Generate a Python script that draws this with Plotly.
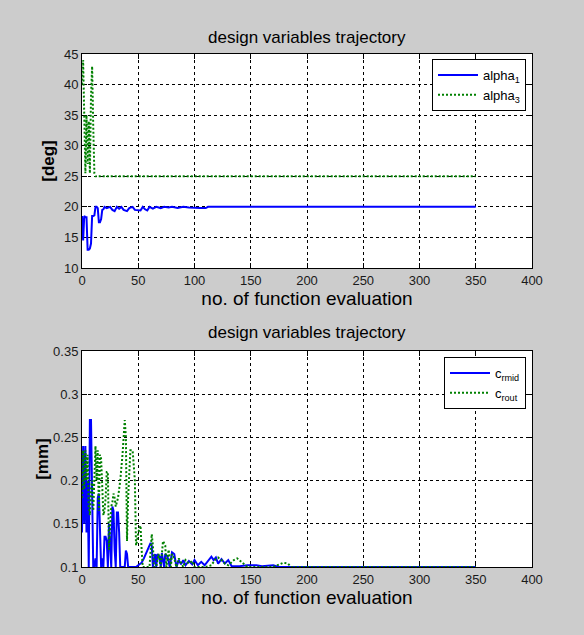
import plotly.graph_objects as go
from plotly.subplots import make_subplots

# ---- data: top panel (angles, deg) ----
alpha1_x = [0, 1, 2, 3, 4, 5, 6, 7, 8, 9, 10, 11, 12, 13, 14, 15, 16, 17, 18, 19, 20,
            22, 25, 27, 29, 31, 33, 35, 37, 40, 42, 45, 47, 50, 52, 54, 56, 58, 60,
            63, 66, 70, 73, 77, 80, 85, 90, 95, 100, 105, 110, 112, 350]
alpha1_y = [18.5, 14.5, 18.5, 18.3, 18.3, 13.0, 13.0, 13.2, 14.0, 18.5, 18.5, 18.6, 20.0, 20.0, 19.8,
            17.5, 17.5, 18.0, 19.5, 19.6, 20.0,
            19.8, 20.0, 19.5, 19.3, 20.0, 19.7, 20.0, 19.5, 19.3, 19.8, 20.0, 19.5, 19.5, 19.4, 20.0,
            19.6, 19.4, 20.0, 19.7, 20.0, 19.8, 20.0, 19.9, 20.0, 19.8, 20.0, 19.9, 19.8, 19.8,
            19.8, 20.0, 20.0]

alpha3_x = [0, 1, 2, 3, 4, 5, 6, 7, 8, 9, 10, 11, 12, 350]
alpha3_y = [40.0, 44.0, 35.0, 25.5, 35.0, 27.0, 34.0, 25.5, 38.0, 43.0, 33.0, 25.5, 25.0, 25.0]

# ---- data: bottom panel (clearances, mm) ----
crmid_x = [0, 1, 2, 3, 4, 5, 6, 7, 8, 9, 10, 11, 12, 13, 14, 15, 16, 17, 18, 19, 20,
           21, 22, 23, 24, 25, 26, 27, 28, 29, 30, 31, 32, 33, 34, 36, 38, 39, 40, 41,
           45, 48, 50, 53, 55, 58, 61, 62, 63, 65, 66, 67, 69, 70, 71, 73, 74, 76, 78,
           80, 82, 84, 86, 88, 90, 92, 95, 98, 100, 103, 106, 109, 112, 115, 117, 119,
           121, 124, 127, 130, 133, 140, 147, 155, 160, 170, 175, 350]
crmid_y = [0.14, 0.24, 0.15, 0.24, 0.14, 0.20, 0.10, 0.27, 0.27, 0.20, 0.10, 0.10, 0.11, 0.10,
           0.18, 0.185, 0.13, 0.10, 0.11, 0.10, 0.135,
           0.135, 0.13, 0.10, 0.15, 0.13, 0.10, 0.17, 0.165, 0.12, 0.10, 0.163, 0.163, 0.14,
           0.10, 0.10, 0.10, 0.119, 0.115, 0.10,
           0.10, 0.10, 0.102, 0.105, 0.11, 0.118, 0.128, 0.125, 0.10, 0.115, 0.10, 0.115,
           0.112, 0.10, 0.116, 0.10, 0.115, 0.112, 0.10,
           0.117, 0.115, 0.10, 0.108, 0.103, 0.108, 0.102, 0.107, 0.103, 0.108, 0.102,
           0.106, 0.102, 0.107, 0.112, 0.108, 0.111,
           0.104, 0.109, 0.104, 0.108, 0.101, 0.101, 0.102, 0.102, 0.101, 0.102, 0.10, 0.10]

crout_x = [0, 1, 2, 3, 4, 5, 6, 7, 8, 9, 10, 11, 12, 13, 14, 15, 16, 17, 18, 19, 20,
           21, 22, 23, 24, 25, 26, 27, 28, 29, 30, 31, 32, 33, 34, 36, 38, 39, 40, 41,
           43, 45, 47, 48, 49, 50, 52, 53, 54, 60, 62, 63, 64, 66, 68, 70, 72, 74, 75,
           77, 79, 80, 82, 84, 86, 88, 90, 92, 95, 98, 100, 110, 115, 118, 121, 124, 127,
           130, 135, 138, 141, 144, 147, 170, 175, 179, 183, 186, 350]
crout_y = [0.18, 0.235, 0.19, 0.235, 0.20, 0.23, 0.17, 0.16, 0.19, 0.20, 0.165, 0.22, 0.24,
           0.20, 0.235, 0.165, 0.23, 0.225, 0.20, 0.16, 0.165,
           0.18, 0.21, 0.21, 0.12, 0.14, 0.17, 0.175, 0.185, 0.18, 0.17, 0.175, 0.18, 0.19,
           0.20, 0.23, 0.27, 0.25, 0.13, 0.18,
           0.235, 0.235, 0.20, 0.125, 0.13, 0.14, 0.148, 0.12, 0.10, 0.10, 0.138, 0.125,
           0.10, 0.10, 0.115, 0.10, 0.13, 0.125, 0.10,
           0.12, 0.10, 0.115, 0.11, 0.10, 0.11, 0.105, 0.10, 0.108, 0.104, 0.107, 0.10,
           0.10, 0.102, 0.108, 0.111, 0.108, 0.104,
           0.102, 0.108, 0.11, 0.107, 0.104, 0.10, 0.10, 0.103, 0.105, 0.104, 0.10, 0.10]

x_ticks = [0, 50, 100, 150, 200, 250, 300, 350, 400]
top_y_ticks = [10, 15, 20, 25, 30, 35, 40, 45]
bot_y_ticks = [0.1, 0.15, 0.2, 0.25, 0.3, 0.35]
bot_y_labels = ["0.1", "0.15", "0.2", "0.25", "0.3", "0.35"]

title_text = "design variables trajectory"
x_title = "no. of function evaluation"

FONT = "Liberation Sans, Arial, sans-serif"
BLUE = "#0000ff"
GREEN = "#008000"
DOTS = "2px,2px"

W, H = 584, 635
ML, MR, MT, MB = 82, 52, 54, 68
ph = H - MT - MB
top_lo = (567 - 268) / ph
bot_hi = (567 - 351) / ph

fig = make_subplots(rows=2, cols=1)

fig.add_trace(go.Scatter(x=alpha1_x, y=alpha1_y, mode="lines", name="alpha<sub>1</sub>",
                         line=dict(color=BLUE, width=2), legend="legend"), row=1, col=1)
fig.add_trace(go.Scatter(x=alpha3_x, y=alpha3_y, mode="lines", name="alpha<sub>3</sub>",
                         line=dict(color=GREEN, width=2, dash=DOTS), legend="legend"), row=1, col=1)
fig.add_trace(go.Scatter(x=crmid_x, y=crmid_y, mode="lines", name="c<sub>rmid</sub>",
                         line=dict(color=BLUE, width=2), legend="legend2"), row=2, col=1)
fig.add_trace(go.Scatter(x=crout_x, y=crout_y, mode="lines", name="c<sub>rout</sub>",
                         line=dict(color=GREEN, width=2, dash=DOTS), legend="legend2"), row=2, col=1)

axis_common = dict(showline=True, linecolor="black", linewidth=1, mirror="ticks",
                   ticks="inside", ticklen=5, tickcolor="black", layer="below traces",
                   showgrid=True, gridcolor="black", gridwidth=1, griddash="3px,3px",
                   zeroline=False, tickfont=dict(family=FONT, size=13, color="#1a1a1a"))

xt_font = dict(family=FONT, size=19, color="black")
fig.update_xaxes(range=[0, 400], tickvals=x_ticks, **axis_common)
fig.update_xaxes(title=dict(text=x_title, font=xt_font, standoff=2), row=1, col=1)
fig.update_xaxes(title=dict(text=x_title, font=xt_font, standoff=2), row=2, col=1)
fig.update_yaxes(range=[10, 45], tickvals=top_y_ticks, row=1, col=1,
                 title=dict(text="<b>[deg]</b>", font=dict(family=FONT, size=17, color="black"), standoff=4),
                 **axis_common)
fig.update_yaxes(range=[0.1, 0.35], tickvals=bot_y_ticks, ticktext=bot_y_labels, row=2, col=1,
                 title=dict(text="<b>[mm]</b>", font=dict(family=FONT, size=17, color="black"), standoff=0),
                 **axis_common)

leg_common = dict(xanchor="right", yanchor="top", bgcolor="white", bordercolor="black", borderwidth=1,
                  font=dict(family=FONT, size=13, color="black"), tracegroupgap=0, itemwidth=40)

fig.update_layout(
    width=W, height=H,
    margin=dict(l=ML, r=MR, t=MT, b=MB),
    paper_bgcolor="#cccccc", plot_bgcolor="white",
    font=dict(family=FONT, size=12, color="black"),
    xaxis=dict(domain=[0, 1]), yaxis=dict(domain=[top_lo, 1.0]),
    xaxis2=dict(domain=[0, 1]), yaxis2=dict(domain=[0, bot_hi]),
    legend=dict(x=(526 - ML) / (W - ML - MR), y=(567 - 59) / ph, **leg_common),
    legend2=dict(x=(526 - ML) / (W - ML - MR), y=(567 - 357) / ph, **leg_common),
    annotations=[
        dict(text=title_text, xref="paper", yref="paper", x=0.5, y=1.0, yanchor="bottom",
             yshift=5, showarrow=False, font=dict(family=FONT, size=17, color="black")),
        dict(text=title_text, xref="paper", yref="paper", x=0.5, y=bot_hi, yanchor="bottom",
             yshift=7, showarrow=False, font=dict(family=FONT, size=17, color="black")),
    ],
)

fig.write_html("out.html")
